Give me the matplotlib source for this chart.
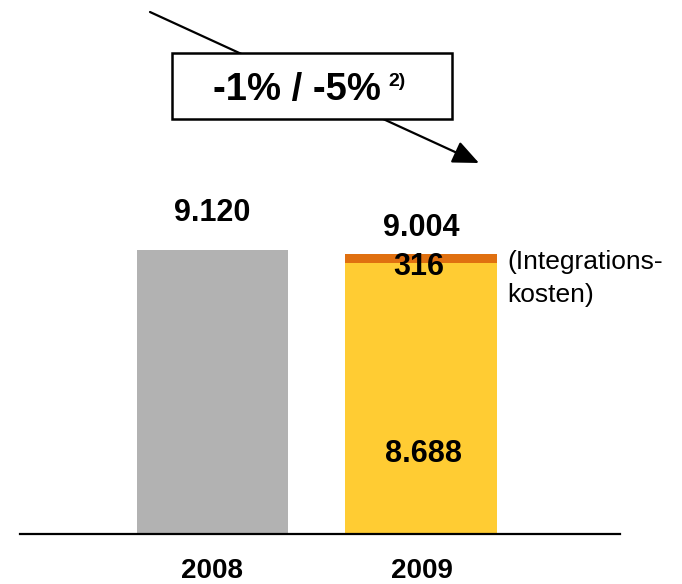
import matplotlib
matplotlib.use("Agg")
import matplotlib.pyplot as plt
from matplotlib.patches import Rectangle, FancyArrowPatch

plt.rcParams['font.family'] = ['Liberation Sans', 'DejaVu Sans']

# ---- data ----
years = ["2008", "2009"]
base_values = [9120, 8688]
integration_costs = [0, 316]
total_labels = ["9.120", "9.004"]
base_label_2009 = "8.688"
cost_label_2009 = "316"
change_text = "-1% / -5%"
footnote = "2)"
side_note = "(Integrations-\nkosten)"

GRAY = "#B2B2B2"
YELLOW = "#FFCC33"
ORANGE = "#E07010"

W, H = 682, 584
fig = plt.figure(figsize=(W / 100, H / 100), dpi=100)


def P(x, y):
    return (x / W, 1 - y / H)


# axes: baseline at pixel y=534, spans x 20..620
ax = fig.add_axes([20 / W, 50 / H, 600 / W, 534 / H])
xs = [0, 1]
width = 0.727
ytop = base_values[0] * 534 / 284
ax.set_xlim(-0.921, 1.95)
ax.set_ylim(0, ytop)

ax.bar(xs[0], base_values[0], width=width, color=GRAY)
ax.bar(xs[1], base_values[1], width=width, color=YELLOW)
ax.bar(xs[1], integration_costs[1], bottom=base_values[1], width=width, color=ORANGE)

for s in ["top", "left", "right"]:
    ax.spines[s].set_visible(False)
ax.spines["bottom"].set_linewidth(1.6)
ax.set_yticks([])
ax.set_xticks(xs)
ax.set_xticklabels(years, fontsize=20, fontweight="bold")
ax.tick_params(axis="x", length=0, pad=17)

PT = 0.72  # points per pixel at dpi 100
totals = [base_values[i] + integration_costs[i] for i in range(2)]
offs = [37, 26]
for i in range(2):
    ax.annotate(total_labels[i], (xs[i], totals[i]), xytext=(0, offs[i] * PT),
                textcoords="offset points", ha="center", va="center",
                fontsize=22, fontweight="bold")

ax.annotate(cost_label_2009, (xs[1], base_values[1] + integration_costs[1] / 2),
            xytext=(-3 * PT, -8 * PT), textcoords="offset points",
            ha="center", va="center", fontsize=22, fontweight="bold")
ax.annotate(base_label_2009, (xs[1], 0), xytext=(2 * PT, 80 * PT),
            textcoords="offset points", ha="center", va="center",
            fontsize=22, fontweight="bold")
ax.annotate(side_note, (xs[1] + width / 2, base_values[1] + integration_costs[1] / 2),
            xytext=(10 * PT, -20 * PT), textcoords="offset points",
            ha="left", va="center", fontsize=19, linespacing=1.5)

# arrow behind box
arrow = FancyArrowPatch(P(150, 12), P(479, 163), transform=fig.transFigure,
                        arrowstyle="-|>,head_length=0.8,head_width=0.35",
                        mutation_scale=20, lw=1.6, color="black", zorder=2,
                        shrinkA=0, shrinkB=0)
fig.add_artist(arrow)

x0, y0 = P(172, 119)
rect = Rectangle((x0, y0), 280 / W, 66 / H, transform=fig.transFigure,
                 facecolor="white", edgecolor="black", lw=1.8, zorder=3)
fig.add_artist(rect)

fig.text(*P(297, 90), change_text, ha="center", va="center",
         fontsize=27.5, fontweight="bold", zorder=4)
fig.text(*P(388, 82), footnote, ha="left", va="center",
         fontsize=14, fontweight="bold", zorder=4)

fig.savefig("out.png", dpi=100)
